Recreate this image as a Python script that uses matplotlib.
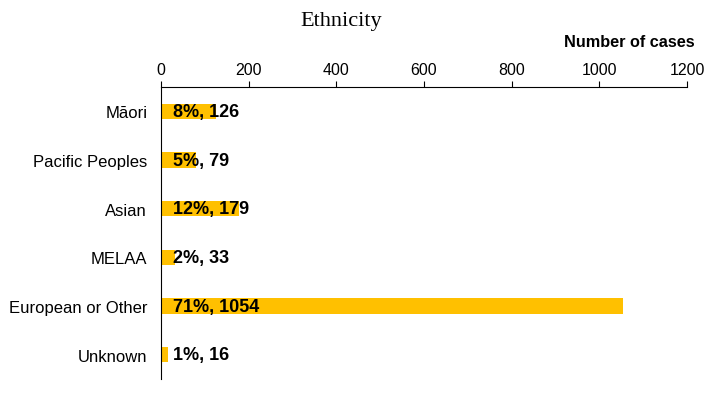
import matplotlib.pyplot as plt

# data
categories = ['Māori', 'Pacific Peoples', 'Asian', 'MELAA', 'European or Other', 'Unknown']
cases = [126, 79, 179, 33, 1054, 16]
percents = [8, 5, 12, 2, 71, 1]
xticks = [0, 200, 400, 600, 800, 1000, 1200]

plt.rcParams['font.family'] = ['Liberation Sans', 'DejaVu Sans']

fig = plt.figure(figsize=(7.1, 4.02), dpi=100)
ax = fig.add_axes([0.2268, 0.0547, 0.7408, 0.7263])

y = range(len(categories))
ax.barh(y, cases, height=0.31, color='#FFC000')

for i, (n, p) in enumerate(zip(cases, percents)):
    ax.annotate(f'{p}%, {n}', xy=(0, i), xytext=(8.5, 0), textcoords='offset points',
                va='center', ha='left', fontsize=13, fontweight='bold', color='black')

ax.set_xlim(0, 1200)
ax.set_ylim(len(categories) - 0.5, -0.5)
ax.set_yticks(list(y))
ax.set_yticklabels(categories, fontsize=12)
ax.tick_params(axis='y', length=0, pad=10)

ax.set_xticks(xticks)
ax.xaxis.tick_top()
ax.tick_params(axis='x', labelsize=11.5, length=4, width=0.8, pad=3.5, direction='out')

for side in ['right', 'bottom']:
    ax.spines[side].set_visible(False)
ax.spines['top'].set_linewidth(0.8)
ax.spines['left'].set_linewidth(0.8)

fig.text(0.48, 0.935, 'Ethnicity', ha='center', va='baseline',
         fontsize=16, family=['Liberation Serif', 'DejaVu Serif'])
fig.text(0.979, 0.894, 'Number of cases', ha='right', va='center',
         fontsize=11.7, fontweight='bold')

fig.savefig('out.png', dpi=100)
